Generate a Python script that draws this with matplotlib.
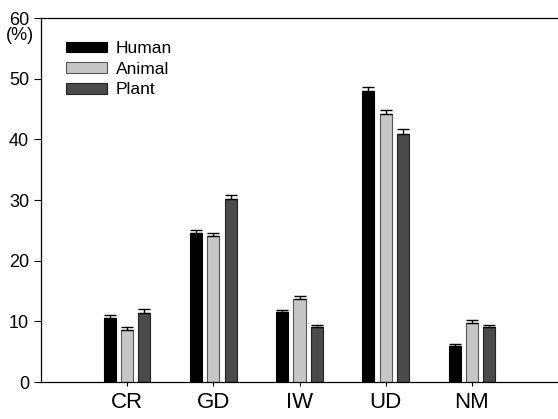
import numpy as np
import matplotlib as mpl
mpl.use('Agg')
import matplotlib.pyplot as plt

######################
## data
######################

categories = ['CR', 'GD', 'IW', 'UD', 'NM']
series_names = ['Human', 'Animal', 'Plant']

human = [10.5, 24.5, 11.5, 48.0, 5.9]
animal = [8.6, 24.0, 13.7, 44.2, 9.7]
plant = [11.4, 30.2, 9.1, 40.8, 9.1]

human_err = [0.5, 0.5, 0.4, 0.6, 0.4]
animal_err = [0.5, 0.5, 0.5, 0.6, 0.6]
plant_err = [0.6, 0.6, 0.3, 0.9, 0.3]

######################
## setup plot
######################

plt.rcParams['font.family'] = ['Liberation Sans', 'DejaVu Sans']

fig = plt.figure(figsize=(5.58, 4.19), dpi=100)
ax = fig.add_axes([0.0735, 0.0883, 0.9265, 0.8687])

x = np.arange(len(categories))
width = 0.14
offset = 0.2

styles = [
    dict(color='black', edgecolor='black'),
    dict(color='#c6c6c6', edgecolor='#555555'),
    dict(color='#4a4a4a', edgecolor='#222222'),
]
values = [human, animal, plant]
errors = [human_err, animal_err, plant_err]

for i, (name, vals, errs, st) in enumerate(zip(series_names, values, errors, styles)):
    ax.bar(x + (i - 1) * offset, vals, width, yerr=[np.zeros(len(errs)), errs],
           label=name, linewidth=0.8,
           error_kw=dict(ecolor='black', elinewidth=1.0, capsize=4, capthick=1.0),
           **st)

######################
## axes
######################

ax.set_xlim(-1.0, 5.0)
ax.set_ylim(0, 60)
ax.set_yticks([0, 10, 20, 30, 40, 50, 60])
ax.set_xticks(x)
ax.set_xticklabels(categories, fontsize=16)
ax.tick_params(axis='x', length=3, pad=4, direction='out')
ax.tick_params(axis='y', length=5, labelsize=13, direction='out')

ax.spines['right'].set_visible(False)
for s in ['left', 'top', 'bottom']:
    ax.spines[s].set_linewidth(0.9)

fig.text(6 / 558, 1 - 27 / 419, '(%)', ha='left', va='top', fontsize=13)

ax.legend(loc='upper left', bbox_to_anchor=(0.031, 0.96), frameon=False,
          borderpad=0, fontsize=12.5, handlelength=2.35, handleheight=0.57,
          labelspacing=0.32, handletextpad=0.55)

plt.savefig('out.png', dpi=100)
